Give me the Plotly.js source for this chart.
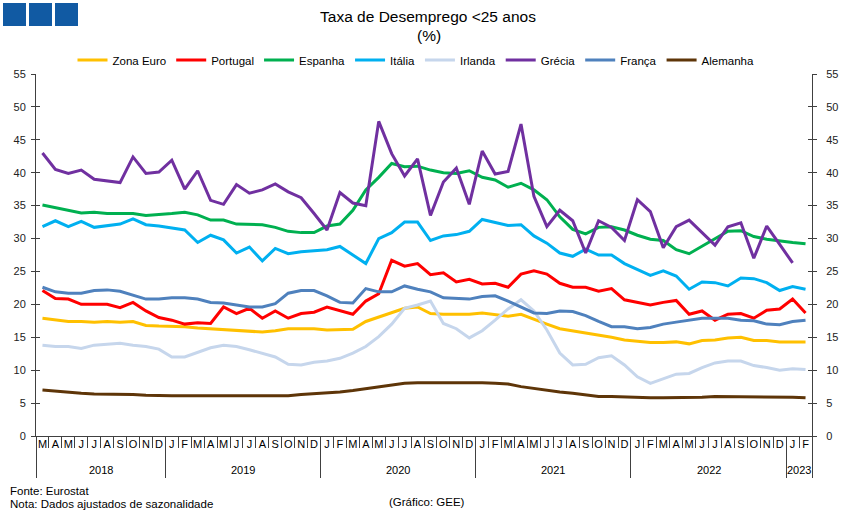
<!DOCTYPE html>
<html>
<head>
<meta charset="utf-8">
<script src="https://cdn.plot.ly/plotly-3.0.1.min.js"></script>
<style>html,body{margin:0;padding:0;background:#fff;}#chart{width:851px;height:518px;}</style>
</head>
<body>
<div id="chart"></div>
<script>
// ---- Data (monthly, Mar 2018 – Feb 2023) ----
const startYear = 2018;
const startMonth = 2; // March (0-based)
const monthLetters = ['J','F','M','A','M','J','J','A','S','O','N','D'];

const seriesNames = ['Zona Euro','Portugal','Espanha','Itália','Irlanda','Grécia','França','Alemanha'];
const seriesColors = ['#FFC000','#FF0000','#00B050','#00B0F0','#C6D6EC','#7030A0','#4F81BD','#5E3508'];

const zonaEuro = [17.9,17.6,17.4,17.4,17.3,17.4,17.3,17.4,16.8,16.7,
  16.7,16.6,16.4,16.3,16.1,16.0,16.0,15.8,16.0,16.3,16.3,16.3,
  16.1,16.1,16.2,17.4,18.1,18.7,19.4,19.6,18.6,18.5,18.5,18.5,
  18.7,18.5,18.2,18.5,17.7,17.0,16.3,16.0,15.6,15.3,15.0,14.6,
  14.4,14.2,14.2,14.3,14.0,14.5,14.6,14.9,15.0,14.5,14.5,14.3,
  14.3,14.3];
const portugal = [22.1,20.9,20.8,20.0,20.0,20.0,19.5,20.3,19.0,18.0,
  17.6,17.0,17.2,17.1,19.6,18.6,19.4,17.9,19.0,17.9,18.6,18.8,
  19.6,19.1,18.5,20.5,21.6,26.7,25.8,26.2,24.5,24.8,23.4,23.8,
  23.1,23.2,22.6,24.6,25.1,24.6,23.2,22.6,22.6,22.0,22.4,20.7,
  20.3,19.9,20.3,20.6,18.5,19.0,17.6,18.5,18.6,17.9,19.1,19.3,
  20.8,18.7];
const espanha = [35.1,34.7,34.3,33.9,34.0,33.8,33.8,33.8,33.5,33.6,
  33.8,34.0,33.6,32.8,32.8,32.2,32.2,32.1,31.7,31.1,30.9,30.9,
  31.9,32.2,34.3,37.4,39.3,41.4,40.9,41.0,40.4,40.0,39.9,40.3,
  39.3,38.9,37.8,38.4,37.4,35.9,33.3,31.4,30.7,31.7,31.8,31.3,
  30.5,29.9,29.7,28.3,27.7,28.8,29.9,31.1,31.2,30.3,29.9,29.6,
  29.4,29.2];
const italia = [31.8,32.7,31.8,32.6,31.7,31.9,32.2,33.0,32.1,31.9,
  31.6,31.3,29.4,30.5,29.8,27.8,28.7,26.6,28.5,27.7,28.0,28.1,
  28.3,28.8,27.5,26.2,30.0,30.9,32.5,32.5,29.7,30.4,30.6,31.1,
  32.9,32.4,32.0,32.1,30.4,29.3,27.8,27.3,28.4,27.5,27.5,26.2,
  25.3,24.4,25.1,24.3,22.3,23.4,23.3,22.8,24.0,23.9,23.3,22.1,
  22.7,22.3];
const irlanda = [13.8,13.6,13.6,13.3,13.8,14.0,14.1,13.8,13.6,13.2,
  12.0,12.0,12.7,13.4,13.8,13.6,13.1,12.6,12.0,10.9,10.8,11.2,
  11.4,11.8,12.6,13.6,15.1,17.0,19.4,19.9,20.5,17.1,16.3,14.9,
  16.0,17.6,19.3,20.7,19.0,16.1,12.6,10.8,10.9,11.9,12.2,10.8,
  9.0,8.0,8.7,9.4,9.5,10.4,11.1,11.4,11.4,10.7,10.4,10.0,
  10.2,10.1];
const grecia = [43.0,40.5,39.9,40.4,39.0,38.7,38.5,42.4,39.9,40.1,
  41.9,37.5,40.3,35.8,35.2,38.2,36.9,37.4,38.3,37.1,36.2,33.8,
  31.3,37.0,35.4,35.0,47.8,42.9,39.5,42.1,33.5,38.6,40.7,35.2,
  43.3,39.8,40.2,47.4,36.4,31.8,34.3,32.7,27.8,32.7,31.7,29.7,
  35.9,34.1,28.6,31.8,32.8,30.9,29.0,31.8,32.4,27.0,31.9,29.1,
  26.3,null];
const franca = [22.6,21.9,21.7,21.7,22.1,22.2,22.0,21.4,20.8,20.8,
  21.0,21.0,20.8,20.3,20.2,19.9,19.6,19.6,20.1,21.7,22.1,22.1,
  21.3,20.3,20.2,22.4,21.9,21.9,22.8,22.3,21.9,21.0,20.9,20.8,
  21.2,21.3,20.5,19.6,18.7,18.6,19.0,18.9,18.3,17.4,16.6,16.6,
  16.3,16.5,17.0,17.3,17.6,17.9,17.9,17.9,17.6,17.5,17.0,16.9,
  17.4,17.6];
const alemanha = [7.0,6.8,6.6,6.5,6.4,6.4,6.4,6.3,6.2,6.1,
  6.1,6.1,6.1,6.1,6.1,6.1,6.1,6.1,6.1,6.1,6.3,6.4,
  6.5,6.7,6.9,7.2,7.5,7.8,8.0,8.1,8.1,8.2,8.2,8.1,
  8.1,8.0,7.9,7.5,7.2,6.9,6.7,6.5,6.2,6.0,6.0,5.9,
  5.8,5.8,5.8,5.8,5.9,5.9,6.0,6.0,6.0,6.0,6.0,5.9,
  5.9,5.8];

const yTicks = [0,5,10,15,20,25,30,35,40,45,50,55];

// ---- Build periods / axis labels ----
const nMonths = zonaEuro.length;
const periods = [];
for (let i = 0; i < nMonths; i++) {
  const m = (startMonth + i) % 12;
  const y = startYear + Math.floor((startMonth + i) / 12);
  periods.push({year: y, month: m});
}
const xIdx = periods.map((p, i) => i);
const monthText = periods.map(p => monthLetters[p.month]);
const monthBounds = [];
for (let i = 0; i <= nMonths; i++) monthBounds.push(i - 0.5);
const yearBounds = [-0.5];
const yearCenters = [];
const yearNames = [];
let first = 0;
for (let i = 1; i <= nMonths; i++) {
  if (i === nMonths || periods[i].year !== periods[i-1].year) {
    yearBounds.push(i - 0.5);
    yearCenters.push((first + i - 1) / 2);
    yearNames.push(String(periods[i-1].year));
    first = i;
  }
}

const allSeries = [zonaEuro, portugal, espanha, italia, irlanda, grecia, franca, alemanha];

const FONT = 'Liberation Sans, Arial, sans-serif';
const AX = '#404040';

const traces = allSeries.map((vals, k) => ({
  type: 'scatter', mode: 'lines', name: seriesNames[k],
  x: xIdx, y: vals,
  line: {color: seriesColors[k], width: 3},
  connectgaps: false, hoverinfo: 'x+y+name'
}));
// helper empty traces so overlay axes are drawn
traces.push({type:'scatter', x:[], y:[], xaxis:'x', yaxis:'y2', showlegend:false, hoverinfo:'skip'});
traces.push({type:'scatter', x:[], y:[], xaxis:'x', yaxis:'y3', showlegend:false, hoverinfo:'skip'});
traces.push({type:'scatter', x:[], y:[], xaxis:'x', yaxis:'y4', showlegend:false, hoverinfo:'skip'});
traces.push({type:'scatter', x:[], y:[], xaxis:'x2', yaxis:'y', showlegend:false, hoverinfo:'skip'});
traces.push({type:'scatter', x:[], y:[], xaxis:'x3', yaxis:'y', showlegend:false, hoverinfo:'skip'});

const W = 851, H = 518, ML = 36, MR = 39, MT = 74, MB = 82;
const PW = W - ML - MR, PH = H - MT - MB;
const px = v => (v - ML) / PW;
const py = v => (H - MB - v) / PH;

const xr = [-0.5, nMonths - 0.5];
const yr = [0, 55];

const baseY = {range: yr, autorange: false, tickmode: 'array', tickvals: yTicks, showgrid: false, zeroline: false, fixedrange: true};

const shapes = [];
[3, 29, 55].forEach(x0 => {
  shapes.push({type:'rect', xref:'paper', yref:'paper', x0:px(x0), x1:px(x0+23), y0:py(26), y1:py(3),
    fillcolor:'#115AA3', line:{width:0}});
});

const annotations = yearCenters.map((c, k) => ({
  x: c, xref: 'x', y: py(470), yref: 'paper', text: yearNames[k], showarrow: false,
  xanchor: 'center', yanchor: 'middle', font: {family: FONT, size: 11, color: '#000'}
}));
annotations.push({x: px(429), xref:'paper', y: py(35), yref:'paper', text:'(%)', showarrow:false,
  xanchor:'center', yanchor:'middle', font:{family:FONT, size:15.5, color:'#000'}});
annotations.push({x: px(8), xref:'paper', y: py(491), yref:'paper', text:'Fonte: Eurostat', showarrow:false,
  xanchor:'left', yanchor:'middle', font:{family:FONT, size:11.5, color:'#000'}});
annotations.push({x: px(8), xref:'paper', y: py(504), yref:'paper', text:'Nota: Dados ajustados de sazonalidade', showarrow:false,
  xanchor:'left', yanchor:'middle', font:{family:FONT, size:11.5, color:'#000'}});
annotations.push({x: px(427), xref:'paper', y: py(502), yref:'paper', text:'(Gráfico: GEE)', showarrow:false,
  xanchor:'center', yanchor:'middle', font:{family:FONT, size:11.5, color:'#000'}});

const layout = {
  width: W, height: H,
  margin: {l: ML, r: MR, t: MT, b: MB, pad: 0},
  paper_bgcolor: '#fff', plot_bgcolor: '#fff',
  font: {family: FONT, size: 11, color: '#000'},
  title: {text: 'Taxa de Desemprego &lt;25 anos', font: {family: FONT, size: 15.5, color: '#000'},
    x: px(428), xref: 'paper', xanchor: 'center', y: 1 - 17/H, yref: 'container', yanchor: 'middle'},
  showlegend: true,
  legend: {orientation: 'h', x: px(416), xanchor: 'center', y: py(60), yanchor: 'middle',
    font: {family: FONT, size: 11.5, color: '#000'}, bgcolor: 'rgba(0,0,0,0)', itemwidth: 30, traceorder: 'normal'},
  xaxis: {range: xr, autorange: false, tickmode: 'array', tickvals: xIdx, ticktext: monthText, ticks: '',
    showline: true, linecolor: AX, linewidth: 1, showgrid: false, zeroline: false, fixedrange: true,
    tickfont: {family: FONT, size: 11, color: '#000'}, tickangle: 0, ticklabelstandoff: -2},
  xaxis2: {overlaying: 'x', anchor: 'y', side: 'bottom', range: xr, autorange: false, tickmode: 'array', tickvals: monthBounds,
    ticks: 'outside', ticklen: 11, tickcolor: AX, tickwidth: 1, showticklabels: false, showline: false, showgrid: false, zeroline: false, fixedrange: true},
  xaxis3: {overlaying: 'x', anchor: 'y', side: 'bottom', range: xr, autorange: false, tickmode: 'array', tickvals: yearBounds,
    ticks: 'outside', ticklen: 41, tickcolor: AX, tickwidth: 1, showticklabels: false, showline: false, showgrid: false, zeroline: false, fixedrange: true},
  yaxis: Object.assign({}, baseY, {side: 'left', ticks: 'outside', ticklen: 4, tickcolor: AX, showline: true, linecolor: AX, linewidth: 1,
    tickfont: {family: FONT, size: 11, color: '#222'}, ticklabelstandoff: 3}),
  yaxis2: Object.assign({}, baseY, {overlaying: 'y', anchor: 'x', side: 'right', ticks: 'outside', ticklen: 4, tickcolor: AX,
    showline: true, linecolor: AX, linewidth: 1, tickfont: {family: FONT, size: 11, color: '#222'}, ticklabelstandoff: 7}),
  yaxis3: Object.assign({}, baseY, {overlaying: 'y', anchor: 'x', side: 'left', ticks: 'inside', ticklen: 4, tickcolor: AX,
    showline: false, showticklabels: false}),
  yaxis4: Object.assign({}, baseY, {overlaying: 'y', anchor: 'x', side: 'right', ticks: 'inside', ticklen: 4, tickcolor: AX,
    showline: false, showticklabels: false}),
  shapes: shapes,
  annotations: annotations
};

Plotly.newPlot('chart', traces, layout, {displayModeBar: false, staticPlot: true});
</script>
</body>
</html>
